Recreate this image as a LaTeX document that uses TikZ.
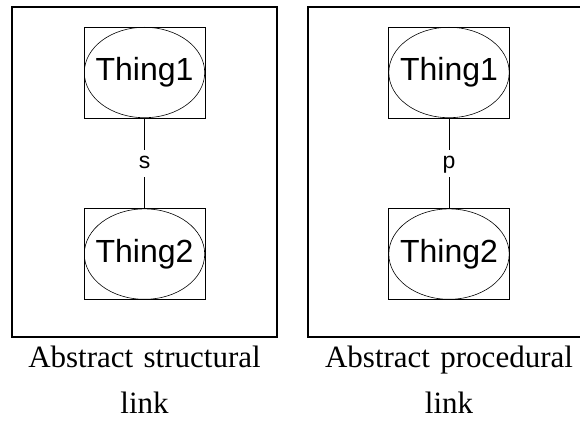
\documentclass[tikz,border=0pt]{standalone}
\usepackage{fontspec}
\setmainfont{Liberation Serif}
\setsansfont{Liberation Sans}
\usetikzlibrary{positioning}

\begin{document}
\begin{tikzpicture}[
					x=1pt, y=-1pt,
					panel/.style={draw, line width=2.5pt, inner sep=0pt, minimum height=330pt},
					thing/.style={draw, line width=0.6pt, inner sep=0pt,
						minimum width=121pt, minimum height=91pt,
						font=\sffamily\fontsize{32}{38}\selectfont,
						path picture={\draw[line width=0.6pt] (path picture bounding box.center) ellipse [x radius=60.2pt, y radius=45.2pt];}},
					linklabel/.style={fill=white, inner sep=3pt, text height=16pt, text depth=5pt,
						font=\sffamily\fontsize{23}{26}\selectfont},
					caption/.style={inner sep=0pt, text width=270pt, align=center,
						font=\fontsize{31}{46}\selectfont}
					]
					\useasboundingbox (0,0) rectangle (580,427);
					\clip (0,0) rectangle (580,427);
					% structural
					\node (panelA) [panel, minimum width=265pt] at (144.5,172) {};
					\node (t1a) [thing] at (144.5,72.5) {Thing1};
					\node (t2a) [thing, below=90pt of t1a] {Thing2};
					\draw[line width=0.6pt] (t1a) -- node[linklabel] {s} (t2a);
					\node (capA) [caption, below=46pt of t2a] {Abstract structural\\link};
					% procedural
					\node (panelB) [panel, minimum width=320pt] at (468,172) {};
					\node (t1b) [thing] at (449,72.5) {Thing1};
					\node (t2b) [thing, below=90pt of t1b] {Thing2};
					\draw[line width=0.6pt] (t1b) -- node[linklabel] {p} (t2b);
					\node (capB) [caption, below=46pt of t2b] {Abstract procedural\\link};
				\end{tikzpicture}
\end{document}
